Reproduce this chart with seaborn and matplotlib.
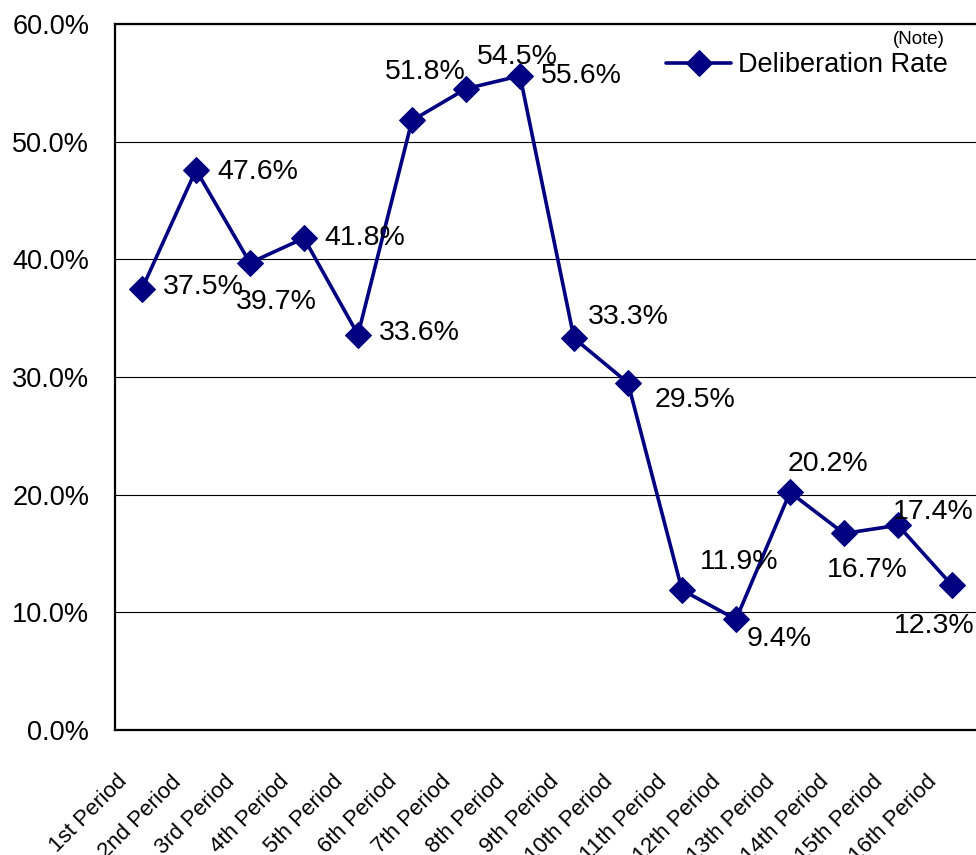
import matplotlib
matplotlib.use("Agg")
import matplotlib.pyplot as plt
import matplotlib.transforms as mtransforms
from matplotlib.ticker import PercentFormatter, FixedLocator
import seaborn as sns
import pandas as pd

# DATOS

periodos = ["1st Period", "2nd Period", "3rd Period", "4th Period",
            "5th Period", "6th Period", "7th Period", "8th Period",
            "9th Period", "10th Period", "11th Period", "12th Period",
            "13th Period", "14th Period", "15th Period", "16th Period"]
tasa = [37.5, 47.6, 39.7, 41.8, 33.6, 51.8, 54.5, 55.6,
        33.3, 29.5, 11.9, 9.4, 20.2, 16.7, 17.4, 12.3]
serie = "Deliberation Rate"
nota = "(Note)"

# desplazamiento de etiquetas (pixeles)
offsets = [(21, 2), (21, -2), (-14, -39), (20, 0), (21, 2), (-27, 48),
           (11, 32), (21, 0), (14, 21), (27, -17), (18, 28), (11, -20),
           (-2, 28), (-17, -37), (-5, 13), (-58, -41)]

df = pd.DataFrame({"periodo": periodos, "tasa": tasa})

# ESTILO

sns.set_style("white")
plt.rcParams["font.family"] = ["Liberation Sans", "DejaVu Sans"]
plt.rcParams["text.color"] = "black"
plt.rcParams["xtick.color"] = "black"
plt.rcParams["ytick.color"] = "black"
plt.rcParams["axes.labelcolor"] = "black"

fig = plt.figure(figsize=(9.76, 8.55), dpi=100)
ax = fig.add_axes([115 / 976, 125 / 855, 864 / 976, 706 / 855])

navy = "#000080"

sns.lineplot(
    data=df,
    x="periodo",
    y="tasa",
    sort=False,
    color=navy,
    linewidth=2.6,
    marker="D",
    markersize=13,
    markeredgecolor=navy,
    label=serie,
    ax=ax
)

# etiquetas de datos
for i, v in enumerate(tasa):
    dx, dy = offsets[i]
    ax.annotate(f"{v:.1f}%", (i, v), xytext=(dx, dy),
                textcoords="offset pixels", ha="left", va="center",
                fontsize=20.5, color="black", annotation_clip=False)

# EJES

ax.set_ylim(0, 60)
ax.set_xlim(-0.5, len(periodos) - 0.5)
ax.set_yticks(range(0, 61, 10))
ax.yaxis.set_major_formatter(PercentFormatter(decimals=1))
ax.tick_params(axis="y", length=0, pad=18.5, labelsize=19.5)
ax.yaxis.grid(True, color="black", linewidth=0.8)
ax.set_axisbelow(True)

ax.set_xticks(range(len(periodos)))
ax.set_xticklabels(periodos, rotation=45, ha="right",
                   rotation_mode="anchor", va="center", fontsize=16)
ax.tick_params(axis="x", which="major", length=0, pad=35)
ax.xaxis.set_minor_locator(FixedLocator([i + 0.5 for i in range(len(periodos) - 1)]))
ax.tick_params(axis="x", which="minor", length=5, width=1,
               direction="in", color="black")

desplaza = mtransforms.ScaledTranslation(-18 / 100, 0, fig.dpi_scale_trans)
for lbl in ax.get_xticklabels():
    lbl.set_transform(lbl.get_transform() + desplaza)

ax.set_xlabel("")
ax.set_ylabel("")

for lado in ["left", "bottom", "top", "right"]:
    ax.spines[lado].set_color("black")
    ax.spines[lado].set_linewidth(1.6)

# LEYENDA

ax.legend(
    loc="center left",
    bbox_to_anchor=(666 / 976, 1 - 65 / 855),
    bbox_transform=fig.transFigure,
    frameon=False,
    fontsize=19.5,
    handlelength=2.4,
    handletextpad=0.25,
    borderpad=0,
    borderaxespad=0
)

fig.text(893 / 976, 1 - 40 / 855, nota, ha="left", va="center", fontsize=13.5)

plt.savefig("out.png", dpi=100)
